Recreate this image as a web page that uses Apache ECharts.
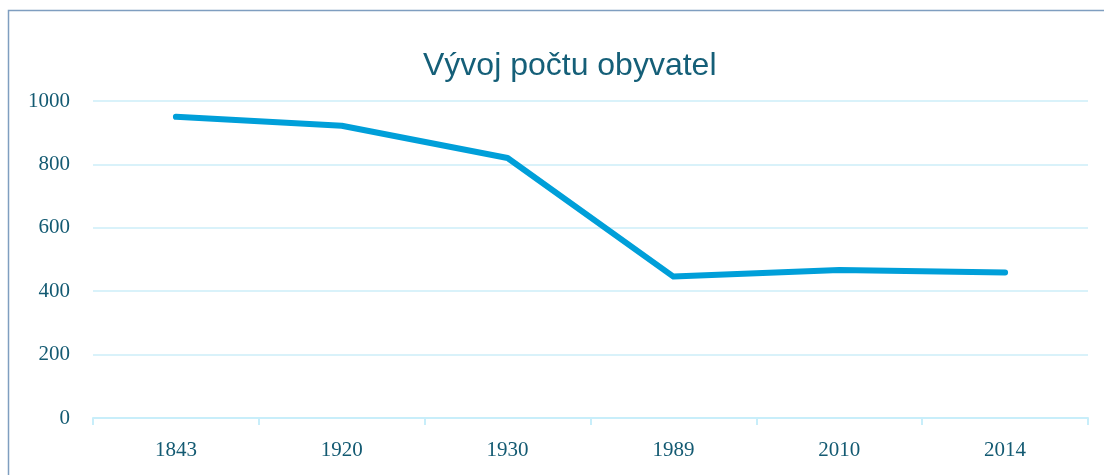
<!DOCTYPE html>
<html>
<head>
<meta charset="utf-8">
<script src="https://cdn.jsdelivr.net/npm/echarts@6/dist/echarts.min.js"></script>
<style>
html,body{margin:0;padding:0;background:#fff;}
#chart{width:1104px;height:475px;}
</style>
</head>
<body>
<div id="chart"></div>
<script>
const titleText = 'Vývoj počtu obyvatel';
const categories = ['1843', '1920', '1930', '1989', '2010', '2014'];
const population = [950, 922, 820, 446, 467, 459];
const yTicks = [0, 200, 400, 600, 800, 1000];

const chart = echarts.init(document.getElementById('chart'));
const textColor = '#135a72';
const serif = '"Liberation Serif", "DejaVu Serif", serif';
chart.setOption({
  animation: false,
  graphic: [{
    type: 'rect',
    shape: {x: 8.5, y: 10.5, width: 1300, height: 700},
    style: {fill: 'none', stroke: '#7f9ec0', lineWidth: 1.5},
    silent: true
  }],
  title: {
    text: titleText,
    left: 418,
    top: 45,
    textStyle: {fontFamily: '"Liberation Sans", Arial, sans-serif', fontSize: 32, fontWeight: 'normal', color: '#155f78'}
  },
  grid: {left: 93, right: 16, top: 101, bottom: 57, containLabel: false},
  xAxis: {
    type: 'category',
    data: categories,
    boundaryGap: true,
    axisLine: {lineStyle: {color: '#c8eefa', width: 2}},
    axisTick: {show: true, length: 7, lineStyle: {color: '#c8eefa', width: 2}},
    axisLabel: {color: textColor, fontFamily: serif, fontSize: 21, margin: 22}
  },
  yAxis: {
    type: 'value',
    min: yTicks[0],
    max: yTicks[yTicks.length - 1],
    interval: 200,
    axisLine: {show: false},
    axisTick: {show: false},
    splitLine: {lineStyle: {color: '#cdeef9', width: 1.5}},
    axisLabel: {color: textColor, fontFamily: serif, fontSize: 21, margin: 23, formatter: function (v) { return String(v); }}
  },
  series: [{
    type: 'line',
    data: population,
    showSymbol: false,
    symbol: 'none',
    lineStyle: {color: '#009fd9', width: 6, cap: 'round', join: 'round'}
  }]
});
</script>
</body>
</html>
